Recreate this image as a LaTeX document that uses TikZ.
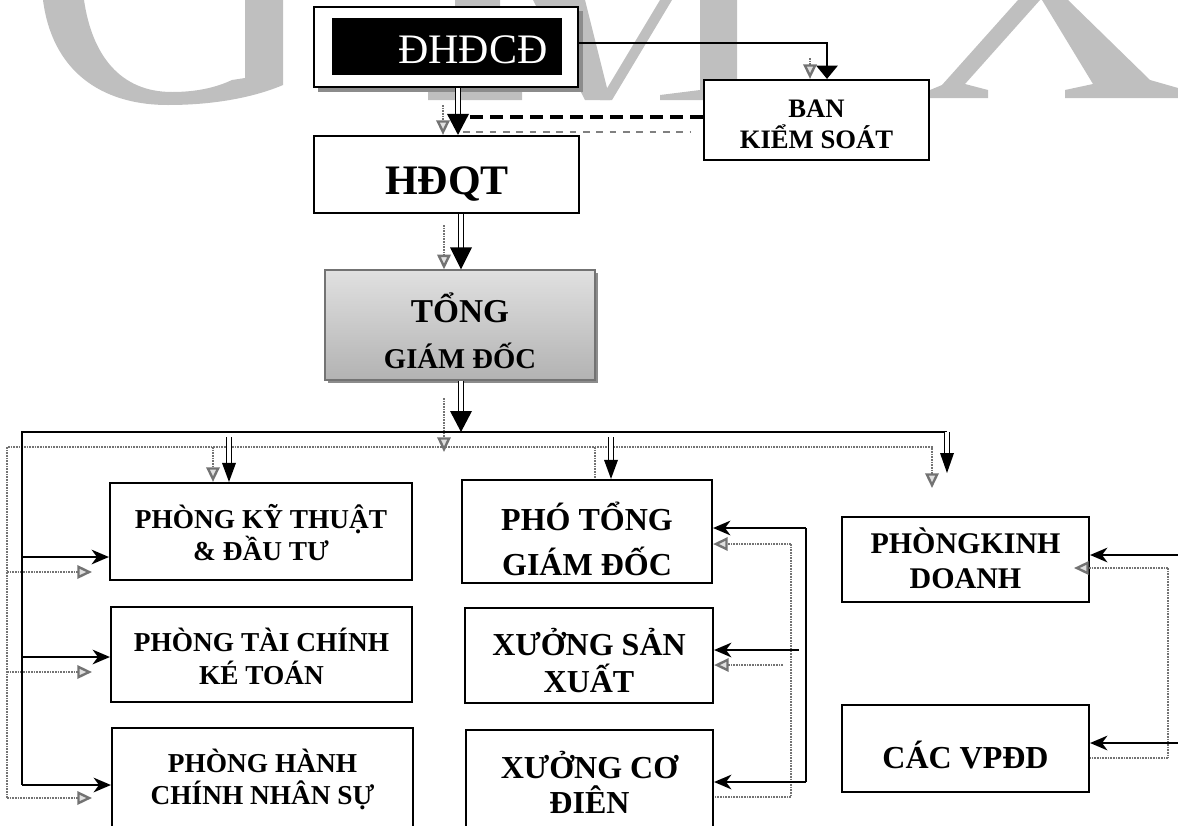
\documentclass[tikz,border=0pt]{standalone}
\usepackage{fontspec}
\setmainfont{Liberation Serif}
\usetikzlibrary{arrows.meta,calc,fit}
\newcommand\dblarr[4]{%
  \draw[dblline] (#1) -- ($(#2)+(0,-0.55*#4)$);
  \fill[black] (#2) -- ++(-#3,-#4) -- ++(2*#3,0) -- cycle;}
\begin{document}
\begin{tikzpicture}[x=0.75pt,y=-0.75pt,
  wm/.style={fill=black!25},
  ln/.style={line width=1.5pt, draw=black},
  arr/.style={ln, -{Stealth[length=13pt,width=11pt,inset=4pt]}},
  dblline/.style={draw=black, line width=1.2pt, double=white, double distance=2.4pt},
  shad/.style={draw=black!55, line width=1.8pt, dash pattern=on 1.2pt off 0.8pt},
  shadarr/.style={shad, -{Triangle[open,fill=black!12,length=11pt,width=10pt]}},
  bdash/.style={draw=black, line width=2.3pt, dash pattern=on 10pt off 5pt},
  gdash/.style={draw=black!50, line width=1.8pt, dash pattern=on 5pt off 5pt},
  box/.style={draw=black, line width=1.6pt, fill=white, inner sep=0pt},
  lbl/.style={anchor=base, inner sep=0pt},
  fA/.style={font=\bfseries\fontsize{20.5}{24}\selectfont},
  fB/.style={font=\bfseries\fontsize{24}{28}\selectfont},
  fC/.style={font=\bfseries\fontsize{22.5}{26}\selectfont},
  fD/.style={font=\bfseries\fontsize{20}{24}\selectfont}]
\useasboundingbox (0,0) rectangle (1178,825);
% ---- watermark letters ----
\fill[wm] (43,0) .. controls (52,70) and (100,105) .. (168,105)
  .. controls (215,105) and (255,97) .. (283,85) -- (283,0) -- (245,0) -- (245,78)
  -- (232,80) .. controls (215,88) and (195,92) .. (172,92)
  .. controls (120,92) and (92,55) .. (84,0) -- cycle;
\fill[wm] (455,0) -- (500,0) -- (500,90) -- (522,92) -- (522,100) -- (428,100) -- (428,92) -- (455,90) -- cycle;
\fill[wm] (533,0) -- (585,0) -- (610,100) -- (585,100) -- cycle;
\fill[wm] (600,100) -- (612,100) -- (672,0) -- (660,0) -- cycle;
\fill[wm] (700,0) -- (737,0) -- (737,92) -- (760,95) -- (760,100) -- (660,100) -- (660,95) -- (700,90) -- cycle;
\fill[wm] (1018,0) -- (1040,0) -- (965,84) -- (988,90) -- (988,98) -- (930,98) -- (930,90) -- (942,85) -- cycle;
\fill[wm] (1042,0) -- (1068,0) -- (1150,80) -- (1178,88) -- (1178,98) -- (1065,98) -- (1065,90) -- (1093,84) -- cycle;
% ---- boxes ----
\fill[black!45] (318,11) rectangle (583,92);
\node[box, fit={(314,7)(578,87)}] (dh) {};
\node[fill=black, inner sep=0pt, fit={(332,18)(562,75)}] (dhin) {};
\node[lbl, text=white, font=\fontsize{31.5}{36}\selectfont] (tdh) at (473,63) {ĐHĐCĐ};

\node[box, fit={(704,80)(929,160)}] (bks) {};
\node[lbl, fD] (tb1) at (816.5,117) {BAN};
\node[lbl, fD] (tb2) at (816.5,148) {KIỂM SOÁT};

\node[box, fit={(314,136)(579,213)}] (hdqt) {};
\node[lbl, font=\bfseries\fontsize{31.5}{36}\selectfont] (thd) at (447,194) {HĐQT};

\fill[black!45] (328,273) rectangle (598,383);
\node[draw=black!55, line width=1pt, inner sep=0pt, top color=black!12, middle color=white,
  bottom color=black!30, fit={(325,270)(595,380)}] (tgd) {};
\node[lbl, font=\bfseries\fontsize{25}{30}\selectfont] (tt1) at (460,322) {TỔNG};
\node[lbl, font=\bfseries\fontsize{21.5}{26}\selectfont] (tt2) at (460,368) {GIÁM ĐỐC};

\node[box, fit={(110,483)(412,580)}] (p1) {};
\node[lbl, fA] (t11) at (261,528) {PHÒNG KỸ THUẬT};
\node[lbl, fA] (t12) at (261,560) {\& ĐẦU TƯ};
\node[box, fit={(111,607)(412,702)}] (p2) {};
\node[lbl, fA] (t21) at (261.5,651) {PHÒNG TÀI CHÍNH};
\node[lbl, fA] (t22) at (261.5,684) {KÉ TOÁN};
\node[box, fit={(112,728)(413,850)}] (p3) {};
\node[lbl, fA] (t31) at (262.5,772) {PHÒNG HÀNH};
\node[lbl, fA] (t32) at (262.5,804) {CHÍNH NHÂN SỰ};

\node[box, fit={(462,480)(712,583)}] (pho) {};
\node[lbl, fB] (t41) at (587,530) {PHÓ TỔNG};
\node[lbl, fB] (t42) at (587,575) {GIÁM ĐỐC};
\node[box, fit={(465,608)(713,703)}] (xsx) {};
\node[lbl, fB] (t51) at (589,655) {XƯỞNG SẢN};
\node[lbl, fB] (t52) at (589,692) {XUẤT};
\node[box, fit={(466,730)(713,850)}] (xcd) {};
\node[lbl, fB] (t61) at (589.5,778) {XƯỞNG CƠ};
\node[lbl, fB] (t62) at (589.5,813) {ĐIÊN};

\node[box, fit={(842,517)(1089,602)}] (pkd) {};
\node[lbl, fC] (t71) at (965.5,553) {PHÒNGKINH};
\node[lbl, fC] (t72) at (965.5,588) {DOANH};
\node[box, fit={(842,705)(1089,792)}] (vp) {};
\node[lbl, fB] (t81) at (965.5,768) {CÁC VPĐD};

% ---- gray shadow connectors ----
\coordinate (gs0) at (810,58);
\draw[shadarr] (gs0) -- (gs0 |- bks.north);
\coordinate (gs1) at (443,105);
\draw[shadarr] (gs1) -- (gs1 |- hdqt.north);
\coordinate (gd1) at (463,132); \coordinate (gd2) at (690,132);
\draw[gdash] (gd1) -- (gd2);
\coordinate (gs2) at (444,225);
\draw[shadarr] (gs2) -- (gs2 |- tgd.north);
\coordinate (gs3) at (444,398); \coordinate (gs3e) at (444,452);
\draw[shadarr] (gs3) -- (gs3e);
\coordinate (gL) at (7,447); \coordinate (gR) at (932,447);
\coordinate (gRd) at (932,488); \coordinate (gLE) at (7,798);
\draw[shadarr] (gLE) -- (gL) -- (gR) -- (gRd);
\coordinate (gb1) at (7,572); \coordinate (gb1e) at (92,572);
\coordinate (gb2) at (7,672); \coordinate (gb2e) at (92,672);
\coordinate (gb3e) at (92,798);
\draw[shadarr] (gb1) -- (gb1e);
\draw[shadarr] (gb2) -- (gb2e);
\draw[shadarr] (gLE) -- (gb3e);
\coordinate (gp1) at (213,447);
\draw[shadarr] (gp1) -- (gp1 |- p1.north);
\coordinate (gp2) at (595,447);
\draw[shad] (gp2) -- (gp2 |- pho.north);
\coordinate (gm1) at (791,544); \coordinate (gm2) at (791,797); \coordinate (gm3) at (783,665);
\draw[shad] (gm1) -- (gm2);
\draw[shadarr] (gm1) -- (gm1 -| pho.east);
\draw[shadarr] (gm3) -- (gm3 -| xsx.east);
\draw[shad] (gm2) -- (gm2 -| xcd.east);
\coordinate (gr1) at (1168,568); \coordinate (gr2) at (1168,758); \coordinate (gr1t) at (1074,568);
\draw[shad] (gr1) -- (gr2);
\draw[shadarr] (gr1) -- (gr1t);
\draw[shad] (gr2) -- (gr2 -| vp.east);

% ---- black connectors ----
\coordinate (bkx) at (827,0);
\coordinate (bkA) at (bks.north -| bkx);
\draw[ln, -{Triangle[length=10pt,width=16pt]}] ([yshift=3pt]dh.east) -| (bkA);
\coordinate (dj) at (463,117);
\draw[bdash] ([yshift=2.25pt]bks.west) -- (dj);
\coordinate (cA) at (458,0);
\coordinate (cB) at (461,0);
\coordinate (e1) at (hdqt.north -| cA);
\dblarr{dh.south -| cA}{e1}{11}{21}
\coordinate (e2) at (tgd.north -| cB);
\dblarr{hdqt.south -| cB}{e2}{11}{22}
\coordinate (busL) at (22,432); \coordinate (busR) at (947,432);
\coordinate (e5) at (busL -| cB);
\dblarr{tgd.south -| cB}{e5}{11}{21}
\coordinate (lbE) at (22,785);
\draw[ln] (busR) -- (busL) -- (lbE);
\coordinate (lb1) at (22,557); \coordinate (lb2) at (22,657);
\draw[arr] (lb1) -- (lb1 -| p1.west);
\draw[arr] (lb2) -- (lb2 -| p2.west);
\draw[arr] (lbE) -- (lbE -| p3.west);
\coordinate (cb1) at (229,437); \coordinate (e3) at (p1.north -| cb1);
\dblarr{cb1}{e3}{7}{19}
\coordinate (cb2) at (611,437); \coordinate (e4) at (pho.north -| cb2);
\dblarr{cb2}{e4}{7}{19}
\coordinate (rdE) at (947,473);
\dblarr{busR}{rdE}{7}{20}
% middle feedback
\coordinate (m1) at (806,528); \coordinate (m2) at (806,782); \coordinate (m3) at (799,650);
\draw[ln] (m1) -- (m2);
\draw[arr] (m1) -- (m1 -| pho.east);
\draw[arr] (m3) -- (m3 -| xsx.east);
\draw[arr] (m2) -- (m2 -| xcd.east);
% right feedback
\coordinate (r1) at (1182,555); \coordinate (r2) at (1182,743);
\draw[ln] (r1) -- (r2);
\draw[arr] (r1) -- (r1 -| pkd.east);
\draw[arr] (r2) -- (r2 -| vp.east);
\end{tikzpicture}
\end{document}
